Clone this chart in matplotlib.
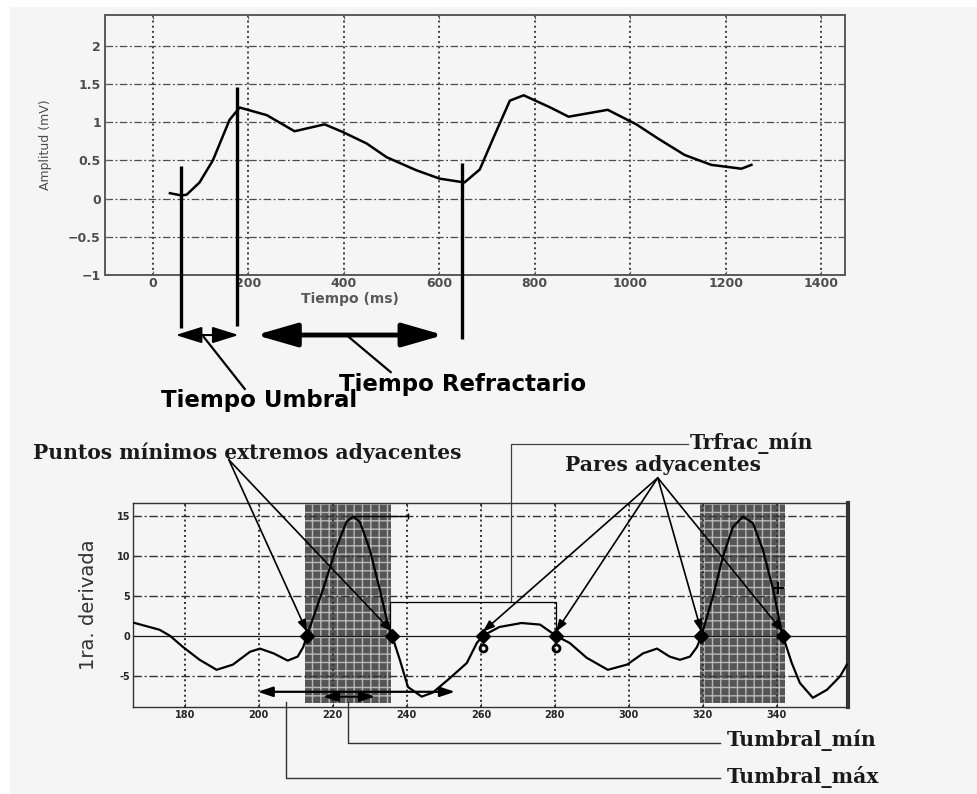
import numpy as np
import matplotlib.pyplot as plt
from matplotlib.patches import Rectangle

# ---- señal superior: tiempo (ms) vs amplitud (mV)
t_sig = [36, 60, 71, 98, 126, 161, 182, 239, 297, 360, 398, 448, 490, 552,
         601, 653, 685, 714, 748, 777, 833, 871, 953, 1013, 1057, 1114, 1170,
         1233, 1254]
amp_sig = [0.07, 0.04, 0.05, 0.21, 0.50, 1.03, 1.19, 1.09, 0.88, 0.97, 0.87,
           0.72, 0.54, 0.37, 0.26, 0.21, 0.38, 0.80, 1.28, 1.35, 1.19, 1.07,
           1.16, 0.97, 0.79, 0.57, 0.44, 0.39, 0.44]

top_xticks = [0, 200, 400, 600, 800, 1000, 1200, 1400]
top_yticks = [-1, -0.5, 0, 0.5, 1, 1.5, 2]
top_ylabels = ['\u22121', '\u22120.5', '0', '0.5', '1', '1.5', '2']

# marcas verticales (ms) y sus extremos (mV)
t_marks = [59, 176, 647]
mark_top = [0.43, 1.46, 0.47]
mark_bot = [-1.69, -1.67, -1.84]

umbral_span = [48, 180]
refrac_span = [216, 609]

# ---- primera derivada
x_der = [166, 173.2, 176, 179.5, 180.5, 184, 188.6, 193, 197.6, 200.3, 204,
         207.8, 210.5, 212, 213, 217.3, 221, 223.7, 225.4, 227.3, 230, 232.7,
         234.6, 236, 238.1, 240.3, 244, 247, 251.6, 256.2, 258.9, 260.5, 265,
         271, 276, 280.3, 284, 288.6, 294.3, 299.5, 303.8, 307.6, 311, 313.8,
         316.5, 318.4, 319.6, 322.7, 325.4, 328.1, 330.8, 333.5, 336.2, 339,
         340.8, 341.6, 344, 346.2, 349.7, 353.5, 357, 358.9]
y_der = [1.66, 0.75, 0.0, -1.4, -1.75, -3.0, -4.25, -3.6, -2.0, -1.6, -2.2,
         -3.1, -2.6, -1.4, 0.0, 5.75, 11.1, 14.25, 14.9, 14.25, 10.75, 5.75,
         2.0, 0.0, -3.0, -6.4, -7.6, -7.1, -5.3, -3.4, -0.9, 0.0, 1.1, 1.6,
         1.4, 0.0, -0.9, -2.75, -4.25, -3.6, -2.2, -1.6, -2.6, -3.0, -2.6,
         -1.4, 0.0, 4.9, 9.9, 13.6, 14.9, 14.1, 10.75, 5.75, 1.6, 0.0, -3.4,
         -5.9, -7.75, -6.75, -5.1, -3.6]

x_zeros = [213, 236, 260.5, 280.3, 319.6, 341.6]
x_circ = [260.5, 280.3]
shade_spans = [(212.6, 235.6), (319.2, 342.2)]

bot_xticks = [180, 200, 220, 240, 260, 280, 300, 320, 340]
bot_yticks = [-5, 0, 5, 10, 15]
bot_ylabels = ['-5', '0', '5', '10', '15']

tumbral_min = [217.3, 231.4]
tumbral_max = [199.7, 253.0]
trfrac = [235.4, 280.3]

W, H = 977, 794
BG = '#f5f5f5'
dashdot = (0, (6, 2, 1.5, 2))

fig = plt.figure(figsize=(W / 100, H / 100), dpi=100, facecolor='white')
fig.add_artist(Rectangle((10 / W, 0), 1, 1 - 7 / H, transform=fig.transFigure,
                         facecolor=BG, edgecolor='none', zorder=-10))

# ================= gráfico superior =================
ax1 = fig.add_axes([105 / W, 1 - 275 / H, 740 / W, 260 / H])
ax1.set_facecolor(BG)
ax1.plot(t_sig, amp_sig, color='k', lw=1.8, zorder=3)
ax1.set_xlim(-100, 1450)
ax1.set_ylim(-1, 2.4)
ax1.set_xticks(top_xticks)
ax1.set_yticks(top_yticks)
ax1.set_yticklabels(top_ylabels)
ax1.yaxis.grid(True, ls=dashdot, color='0.3', lw=0.9)
ax1.xaxis.grid(True, ls=':', color='0.25', lw=1.4)
ax1.tick_params(direction='in', length=3, top=True, right=True, pad=3,
                labelsize=9, labelcolor='0.3', color='0.4')
ax1.tick_params(axis='x', pad=1.5)
for lab in ax1.get_xticklabels() + ax1.get_yticklabels():
    lab.set_fontweight('bold')
for sp in ax1.spines.values():
    sp.set_color('0.35')
    sp.set_linewidth(1.4)

fig.text(350 / W, 1 - 299 / H, 'Tiempo (ms)', ha='center', va='center',
         fontsize=10, color='0.35', fontweight='bold')
fig.text(45 / W, 1 - 145 / H, 'Amplitud (mV)', rotation=90, ha='center',
         va='center', fontsize=9, color='0.3',
         family=['Liberation Sans Narrow', 'DejaVu Sans'])

for t, a, b in zip(t_marks, mark_top, mark_bot):
    ax1.plot([t, t], [b, a], color='k', lw=2.4, clip_on=False,
             solid_capstyle='butt', zorder=4)

y_arr = -1.785
ax1.annotate('', xy=(umbral_span[0], y_arr), xytext=(umbral_span[1], y_arr),
             arrowprops=dict(arrowstyle='<|-|>,head_length=1.6,head_width=0.5',
                             color='k', lw=1.5, shrinkA=0, shrinkB=0),
             annotation_clip=False)
ax1.annotate('', xy=(refrac_span[0], y_arr), xytext=(refrac_span[1], y_arr),
             arrowprops=dict(arrowstyle='<|-|>,head_length=2.5,head_width=0.72',
                             color='k', lw=3.5, shrinkA=0, shrinkB=0),
             annotation_clip=False)
ax1.plot([106.8, 192.7], [-1.81, -2.49], color='k', lw=1.6, clip_on=False)
ax1.plot([410.5, 498.4], [-1.81, -2.27], color='k', lw=1.6, clip_on=False)
ax1.text(16.8, -2.64, 'Tiempo Umbral', fontsize=16.5, fontweight='bold',
         ha='left', va='center')
ax1.text(389.5, -2.43, 'Tiempo Refractario', fontsize=16.5, fontweight='bold',
         ha='left', va='center')

# ================= gráfico inferior =================
ax2 = fig.add_axes([133 / W, 1 - 707 / H, 715 / W, 204 / H])
ax2.set_facecolor(BG)
ax2.set_xlim(166, 359.2)
ax2.set_ylim(-8.9, 16.6)
ax2.set_xticks(bot_xticks)
ax2.set_yticks(bot_yticks)
ax2.set_yticklabels(bot_ylabels)

for a, b in shade_spans:
    ax2.add_patch(Rectangle((a, -8.4), b - a, 26, facecolor='#555555',
                            edgecolor='#b8b8b8', hatch='++', lw=0, zorder=1))

for y in [-5, 5, 10, 15]:
    ax2.axhline(y, ls=dashdot, color='0.2', lw=1.0, zorder=2)
ax2.axhline(0, color='0.1', lw=0.9, zorder=2)
for x in bot_xticks:
    ax2.axvline(x, ls=':', color='0.2', lw=1.4, zorder=2)

ax2.plot(x_der, y_der, color='k', lw=1.6, zorder=4)
ax2.plot(x_zeros, [0] * len(x_zeros), 'kD', ms=7.5, zorder=5)
ax2.plot(x_circ, [-1.5] * len(x_circ), 'o', ms=5, mfc='none', mec='k',
         mew=2, zorder=5)
ax2.plot([225.4, 240.3], [15, 15], color='k', lw=1, zorder=4)
ax2.plot([240.3], [15], 'k|', ms=5, zorder=4)
ax2.plot([340.3], [6.0], 'k+', ms=8, mew=1.5, zorder=5)

ax2.tick_params(direction='in', length=3, top=True, right=True, pad=2,
                labelsize=7, labelcolor='0.15', color='0.3')
for lab in ax2.get_xticklabels() + ax2.get_yticklabels():
    lab.set_fontweight('bold')
for sp in ax2.spines.values():
    sp.set_color('0.2')
    sp.set_linewidth(1.0)
ax2.spines['right'].set_linewidth(3)

fig.text(88 / W, 1 - 605 / H, '1ra. derivada', rotation=90, ha='center',
         va='center', fontsize=14, color='0.2',
         family=['Liberation Sans Narrow', 'DejaVu Sans'])

serif = dict(family='DejaVu Serif', fontweight='bold', fontsize=14.6,
             ha='left', va='center', color='0.1')

# Puntos mínimos extremos adyacentes
p_origin = (191.9, 22.0)
ax2.text(138.9, 22.9, 'Puntos mínimos extremos adyacentes', **serif)
for xz in x_zeros[:2]:
    ax2.annotate('', xy=(xz, 0.5), xytext=p_origin,
                 arrowprops=dict(arrowstyle='-|>,head_length=0.7,head_width=0.25',
                                 color='k', lw=1.2, shrinkA=0, shrinkB=0),
                 annotation_clip=False)

# Pares adyacentes
q_origin = (307.8, 19.75)
ax2.text(282.7, 21.3, 'Pares adyacentes', **serif)
for xz in x_zeros[2:]:
    ax2.annotate('', xy=(xz, 0.5), xytext=q_origin,
                 arrowprops=dict(arrowstyle='-|>,head_length=0.7,head_width=0.25',
                                 color='k', lw=1.2, shrinkA=0, shrinkB=0),
                 annotation_clip=False)

# Trfrac_mín
ax2.plot([trfrac[0], trfrac[0], trfrac[1], trfrac[1]], [0.75, 4.25, 4.25, 0],
         color='k', lw=0.9, zorder=4)
ax2.plot([268.1, 268.1, 316.0], [4.25, 24.0, 24.0], color='0.25', lw=0.9,
         clip_on=False)
ax2.text(316.5, 24.1, 'Trfrac_mín', **serif)

# Tumbral_mín / Tumbral_máx
ax2.annotate('', xy=(tumbral_min[0], -7.6), xytext=(tumbral_min[1], -7.6),
             arrowprops=dict(arrowstyle='<|-|>,head_length=0.9,head_width=0.3',
                             color='k', lw=1.6, shrinkA=0, shrinkB=0),
             annotation_clip=False, zorder=6)
ax2.annotate('', xy=(tumbral_max[0], -7.0), xytext=(tumbral_max[1], -7.0),
             arrowprops=dict(arrowstyle='<|-|>,head_length=0.9,head_width=0.3',
                             color='k', lw=1.6, shrinkA=0, shrinkB=0),
             annotation_clip=False, zorder=6)
ax2.plot([224.1, 224.1, 324.6], [-8.25, -13.4, -13.4], color='0.2', lw=1.0,
         clip_on=False)
ax2.plot([207.3, 207.3, 324.6], [-8.25, -17.75, -17.75], color='0.2', lw=1.0,
         clip_on=False)
ax2.text(326.5, -13.0, 'Tumbral_mín', **serif)
ax2.text(326.5, -17.6, 'Tumbral_máx', **serif)

fig.savefig('out.png', dpi=100, facecolor=fig.get_facecolor())
